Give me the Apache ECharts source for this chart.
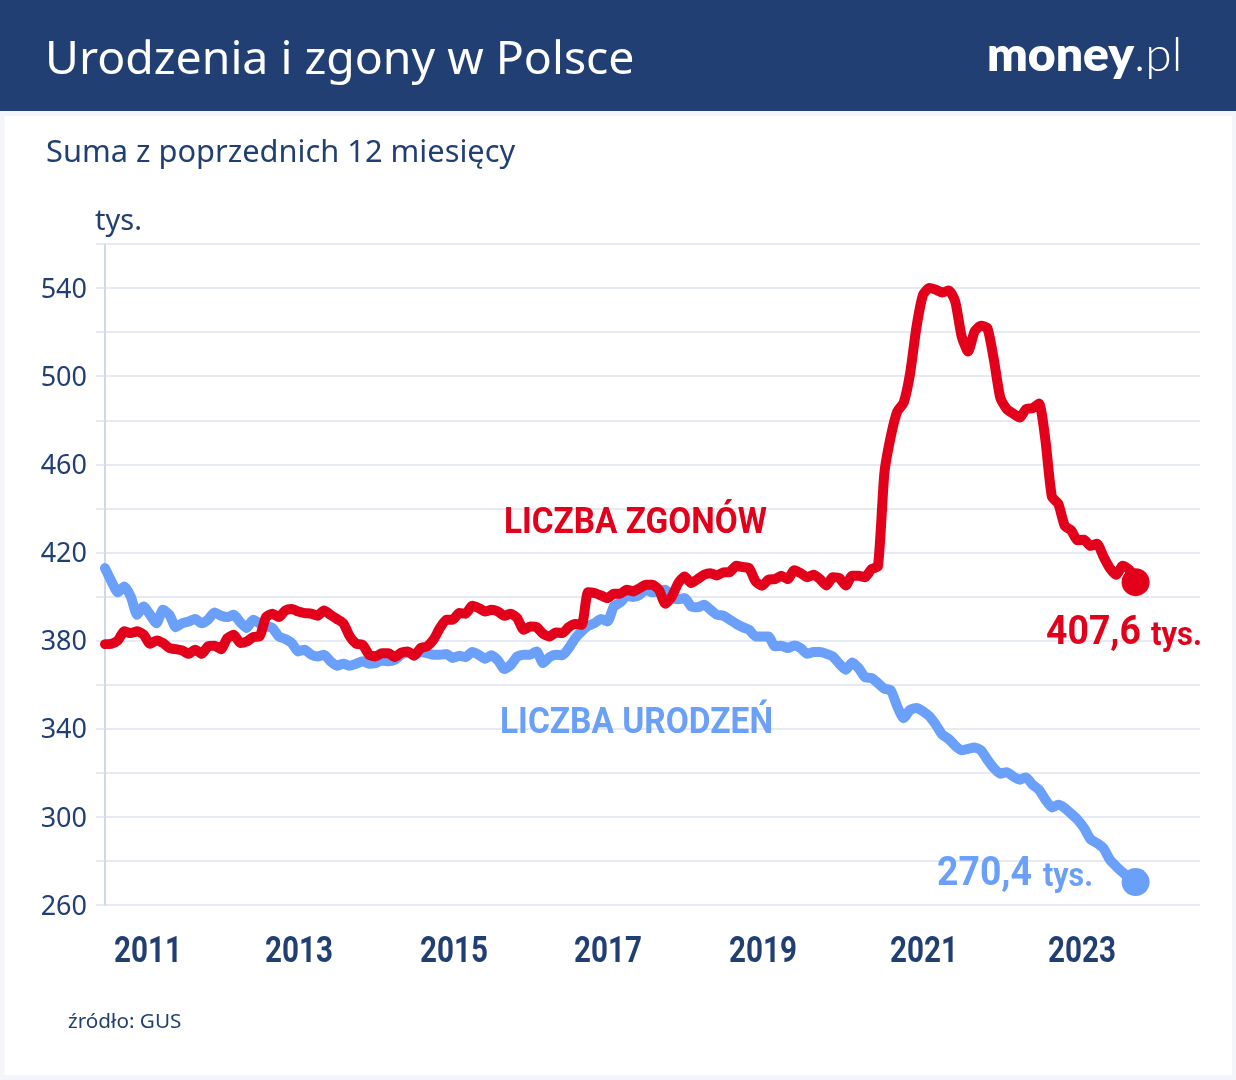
<!DOCTYPE html>
<html><head><meta charset="utf-8">
<style>html,body{margin:0;padding:0;background:#f3f5fa}#c{width:1236px;height:1080px}</style>
<script src="https://cdn.jsdelivr.net/npm/echarts@6/dist/echarts.min.js"></script>
</head><body><div id="c"></div>
<script>
const titleText = 'Urodzenia i zgony w Polsce';
const subtitleText = 'Suma z poprzednich 12 miesięcy';
const sourceText = 'źródło: GUS';
const unitText = 'tys.';
const deathsName = 'LICZBA ZGONÓW';
const birthsName = 'LICZBA URODZEŃ';
const deathsLast = '407,6';
const birthsLast = '270,4';

const births = [
412.9,406.9,401.9,404.6,400.0,391.7,395.5,391.7,387.9,394.0,
391.7,386.1,387.9,388.7,389.8,387.9,389.5,392.8,391.3,390.7,
391.7,388.3,385.7,389.5,387.9,386.7,385.7,381.9,380.7,378.9,
375.1,375.9,373.6,372.8,373.6,370.6,368.6,369.5,368.6,369.5,
370.6,369.5,369.8,371.0,370.6,371.3,373.6,374.6,373.6,374.8,
374.3,373.6,373.6,373.9,372.1,373.1,372.5,374.8,373.6,371.8,
373.3,371.0,367.1,369.0,372.8,373.6,373.6,375.1,369.8,372.5,
373.6,373.3,376.6,381.1,384.2,386.7,387.9,389.8,388.7,395.5,
397.3,400.3,399.8,400.8,403.1,401.9,402.3,403.1,399.3,398.8,
399.3,395.5,395.1,396.3,394.0,391.7,391.3,389.5,387.6,386.1,
384.9,381.9,381.9,381.9,377.4,377.7,376.6,377.8,376.6,374.0,
374.8,374.8,374.0,372.8,369.5,366.8,370.1,367.5,363.4,363.0,
360.7,358.2,357.4,350.1,344.8,348.6,349.4,347.9,345.6,341.8,
337.3,335.3,332.3,330.2,330.9,331.5,330.2,325.9,322.1,319.6,
320.3,318.3,316.9,317.9,314.6,312.3,307.8,304.3,305.5,304.0,
301.4,298.7,294.9,289.9,288.1,285.8,280.6,277.5,274.8,272.2,
270.4];
const deaths = [
378.4,378.6,380.1,384.2,383.4,384.2,382.7,378.6,380.1,378.9,
376.6,376.1,375.5,374.0,375.9,374.0,377.4,377.7,376.1,381.1,
382.7,378.9,379.6,381.6,381.9,390.7,392.2,390.7,393.7,394.3,
393.2,392.5,392.2,391.3,393.7,391.7,389.8,387.9,381.9,378.6,
378.1,373.6,372.8,374.3,374.3,372.5,374.6,375.1,373.1,376.6,
377.4,380.4,385.7,389.5,389.5,392.5,392.2,395.8,394.8,393.2,
394.0,393.2,391.3,392.2,390.2,384.9,386.4,386.1,383.1,381.9,
383.7,383.4,386.1,387.5,387.2,401.9,401.6,400.5,399.3,401.3,
401.3,403.1,402.3,403.8,405.3,405.3,403.1,396.7,400.0,406.1,
409.1,406.1,407.9,409.9,410.6,409.6,411.0,411.1,414.0,413.4,
412.9,406.9,404.9,407.6,407.9,409.4,407.9,411.9,410.6,408.8,
409.9,407.9,405.0,408.8,408.4,405.0,409.4,409.4,408.8,412.5,
413.7,456.0,472.7,484.0,488.0,501.4,522.6,536.9,540.0,539.2,
538.0,538.9,533.9,518.0,511.2,520.3,522.9,521.8,507.5,490.1,
485.1,483.0,481.2,485.1,485.5,487.6,471.0,445.4,442.1,432.1,
430.0,425.5,425.8,423.0,423.9,418.2,412.9,409.9,414.0,412.2,
406.5];
const startYear = 2010, startMonth = 6, monthCount = 171;
const months = [];
for (let k = 0; k < monthCount; k++) {
  const m = startMonth - 1 + k;
  months.push((startYear + Math.floor(m / 12)) + '-' + String(m % 12 + 1).padStart(2, '0'));
}
const yearTicks = ['2011','2013','2015','2017','2019','2021','2023'];
const yearCentres = [148, 299, 454, 608, 763, 924, 1082];
const yMin = 260, yMax = 560, yStep = 20, yLabelStep = 40;

const NAVY = '#223f73', RED = '#e2001a', BLUE = '#6a9ffa', GRID = '#dde3f0';
const BODY = '"Noto Sans"', COND = 'Roboto';

const mctx = document.createElement('canvas').getContext('2d');
// Condensed label: Roboto squeezed horizontally so that it spans a given width.
function squeezed(text, left, width, y, color, size) {
  const font = 'bold ' + size + 'px ' + COND;
  mctx.font = font;
  const sx = width / mctx.measureText(text).width;
  return {type: 'text', x: left, y: y, z: 20, scaleX: sx, silent: true,
    style: {text: text, fill: color, font: font, verticalAlign: 'middle'}};
}

const chart = echarts.init(document.getElementById('c'), null, {renderer: 'canvas'});
const lastIdx = births.length - 1;
chart.setOption({
  animation: false,
  backgroundColor: '#f3f5fa',
  grid: {left: 105, right: 36, top: 244, bottom: 175, containLabel: false},
  xAxis: {
    type: 'category', data: months, boundaryGap: false,
    axisLine: {show: false}, axisTick: {show: false}, splitLine: {show: false},
    axisLabel: {show: false}
  },
  yAxis: {
    type: 'value', min: yMin, max: yMax, interval: yStep,
    axisLine: {show: true, lineStyle: {color: '#bccbe6', width: 1.5}},
    axisTick: {show: true, length: 9, lineStyle: {color: GRID, width: 1.5}},
    splitLine: {show: true, lineStyle: {color: GRID, width: 1.5}},
    axisLabel: {
      margin: 18, color: NAVY, fontFamily: BODY, fontSize: 27, verticalAlign: 'top', lineHeight: 4,
      formatter: v => ((v - yMin) % yLabelStep === 0 && v < yMax) ? String(v) : ''
    }
  },
  series: [
    {name: 'Urodzenia', type: 'line', data: births, showSymbol: false, silent: true, z: 3, smooth: 0.2,
     lineStyle: {color: BLUE, width: 10, join: 'round', cap: 'round'}, itemStyle: {color: BLUE}},
    {name: 'Zgony', type: 'line', data: deaths, showSymbol: false, silent: true, z: 4, smooth: 0.2,
     lineStyle: {color: RED, width: 10, join: 'round', cap: 'round'}, itemStyle: {color: RED}},
    {type: 'scatter', data: [[lastIdx, births[lastIdx]]], symbolSize: 28, silent: true, z: 5, itemStyle: {color: BLUE, opacity: 1}},
    {type: 'scatter', data: [[lastIdx, deaths[lastIdx]]], symbolSize: 28, silent: true, z: 5, itemStyle: {color: RED, opacity: 1}}
  ],
  graphic: [
    {type: 'rect', z: -20, shape: {x: 4.5, y: 116, width: 1227.5, height: 959}, style: {fill: '#ffffff'}, silent: true},
    {type: 'rect', z: -10, shape: {x: 0, y: 0, width: 1236, height: 111}, style: {fill: NAVY}, silent: true},
    {type: 'text', x: 45, y: 61, z: 20, style: {text: titleText, fill: '#fff', font: '400 46.4px ' + BODY, verticalAlign: 'middle'}},
    {type: 'text', x: 987, y: 56, z: 20, style: {
      text: '{a|money}{b|.pl}', fill: '#fff', verticalAlign: 'middle',
      rich: {a: {font: '800 48px Lato', fill: '#fff'}, b: {font: '300 48px Lato', fill: '#fff'}}}},
    {type: 'text', x: 46, y: 153, z: 20, style: {text: subtitleText, fill: NAVY, font: '400 30.8px ' + BODY, verticalAlign: 'middle'}},
    {type: 'text', x: 95, y: 222, z: 20, style: {text: unitText, fill: NAVY, font: '400 29px ' + BODY, verticalAlign: 'middle'}},
    {type: 'text', x: 68, y: 1022, z: 20, style: {text: sourceText, fill: NAVY, font: '400 20.7px ' + BODY, verticalAlign: 'middle'}},
    squeezed(deathsName, 504, 263, 524, RED, 36),
    squeezed(birthsName, 500, 273, 724, BLUE, 36),
    squeezed(deathsLast, 1046, 95, 634, RED, 41),
    squeezed(unitText, 1151, 51, 637, RED, 33),
    squeezed(birthsLast, 937, 95, 875, BLUE, 41),
    squeezed(unitText, 1043, 50, 878, BLUE, 33)
  ].concat(yearTicks.map((t, i) => squeezed(t, yearCentres[i] - 34, 68, 953, NAVY, 37)))
});
</script></body></html>
